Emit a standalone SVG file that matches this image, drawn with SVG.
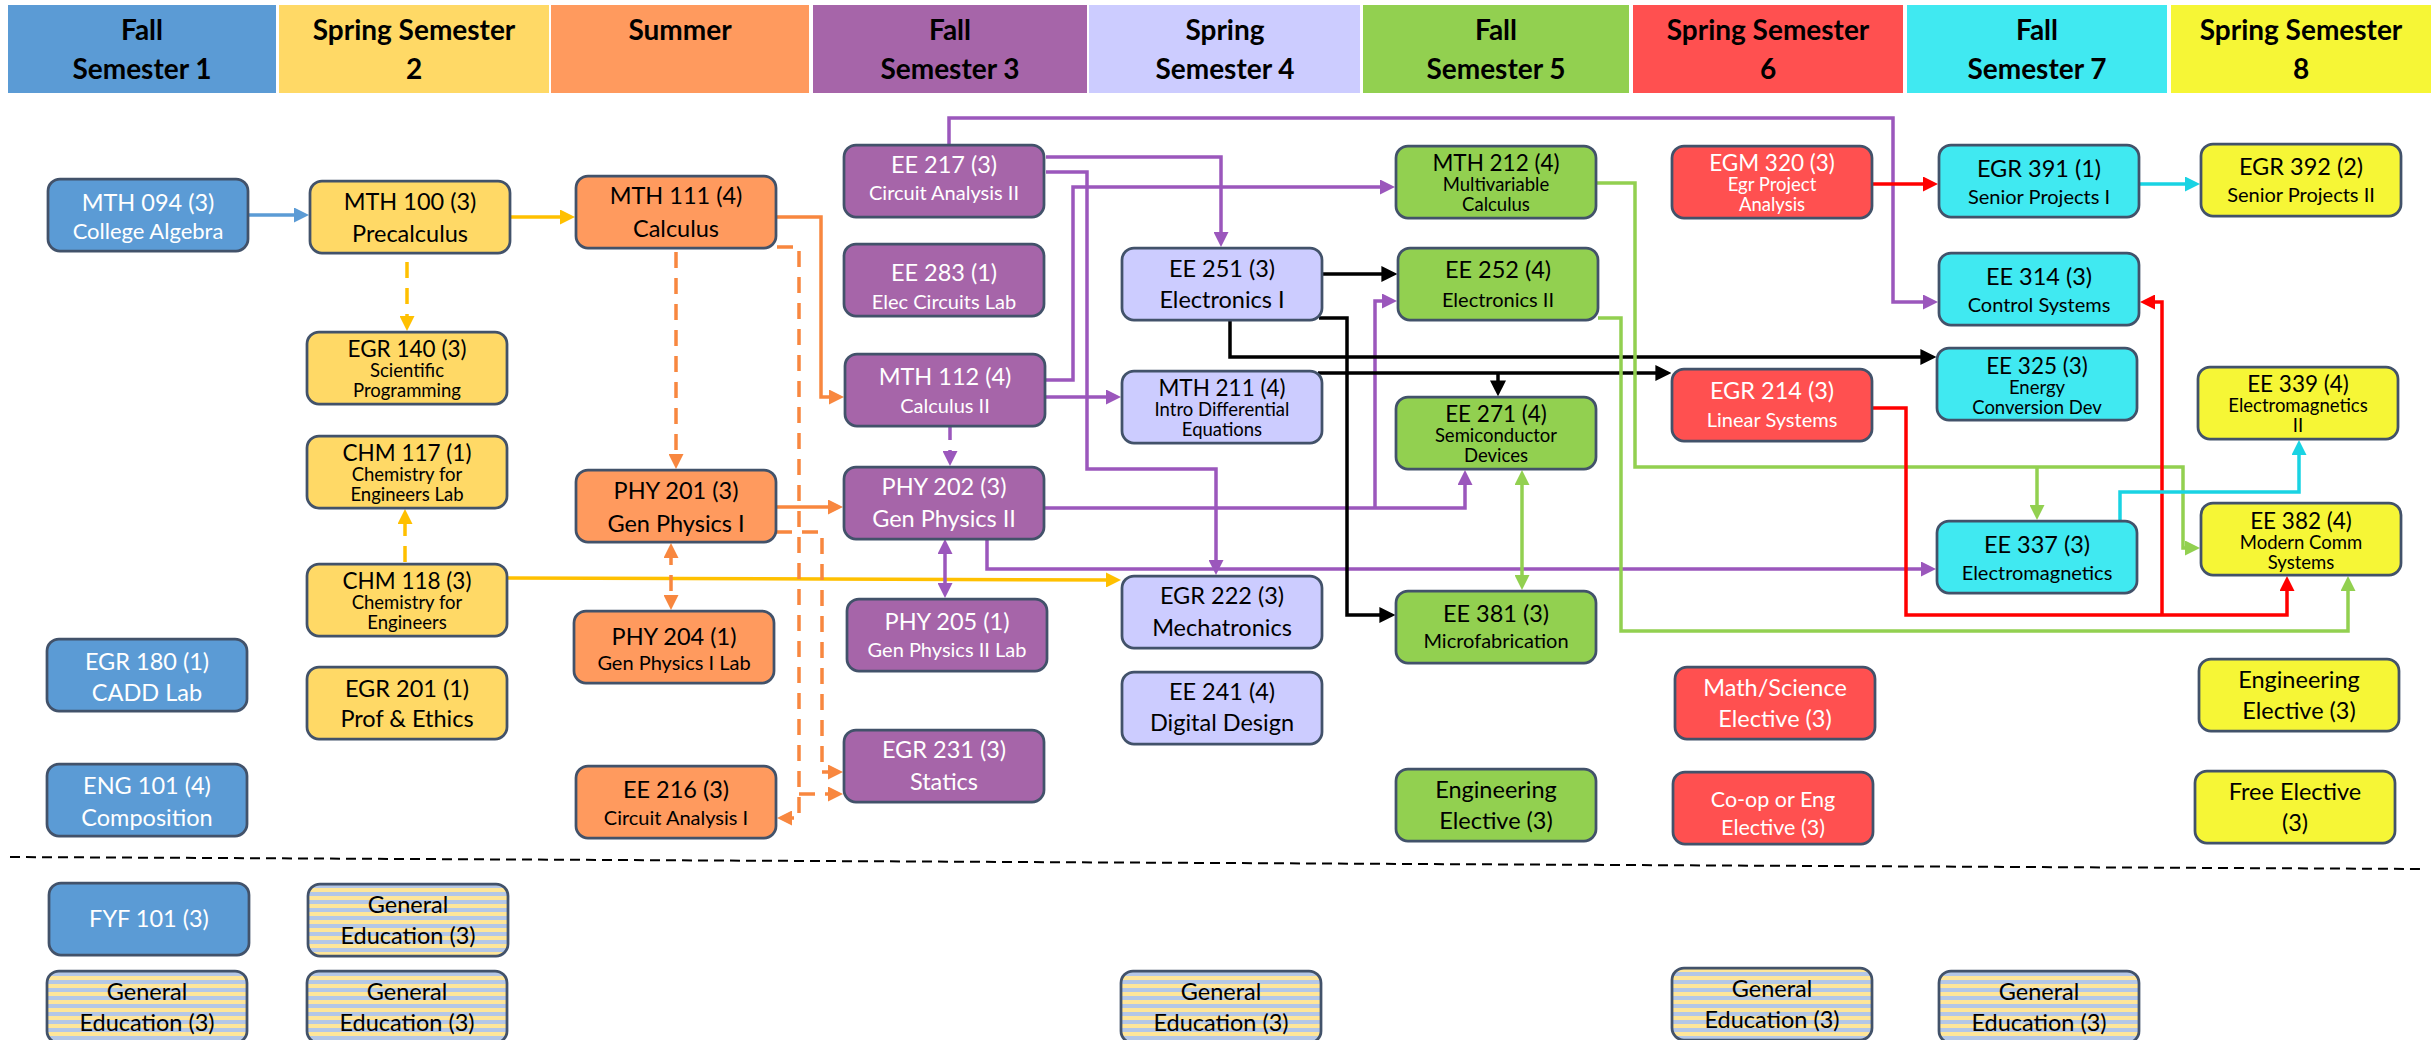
<svg xmlns="http://www.w3.org/2000/svg" width="2433" height="1040" viewBox="0 0 2433 1040">
<style>
.hd{font-family:Lato,"Liberation Sans",sans-serif;font-weight:bold;font-size:28px;text-anchor:middle;fill:#000}
.nb{stroke:#42526A;stroke-width:2.75}
text{font-family:Lato,"Liberation Sans",sans-serif;text-anchor:middle;fill:#000}
.c{font-size:23.5px}
.c3{font-size:22.5px}
.t{font-size:23.5px}
.m{font-size:20px}
.s{font-size:18.5px}
.w text{fill:#fff}
.blue{fill:#5B9BD5}.yel{fill:#FFD966}.org{fill:#FF9A5E}.pur{fill:#A665A9}.lav{fill:#CCCCFF}.grn{fill:#92D050}.red{fill:#FF5050}.cya{fill:#40E9F1}.yl2{fill:#F6F636}.gen{fill:url(#stripes)}
.cn path{fill:none;stroke-width:3.5}
.dash{stroke-dasharray:16 10}
.kb{stroke:#5B9BD5}.kg{stroke:#FFC000}.ko{stroke:#F8873F}.kp{stroke:#9B57BC}.kk{stroke:#000;stroke-width:4}.kn{stroke:#92D050}.kr{stroke:#FF0000}.kc{stroke:#19D3E3}
</style>
<defs>
<pattern id="stripes" patternUnits="userSpaceOnUse" width="8" height="8"><rect width="8" height="4" fill="#FFE699"/><rect y="4" width="8" height="4" fill="#B4C7E7"/></pattern>
<marker id="mb" viewBox="0 0 10 10" refX="6" refY="5" markerWidth="15" markerHeight="15" markerUnits="userSpaceOnUse" orient="auto-start-reverse"><path d="M0,0L10,5L0,10z" fill="#5B9BD5"/></marker>
<marker id="mg" viewBox="0 0 10 10" refX="6" refY="5" markerWidth="15" markerHeight="15" markerUnits="userSpaceOnUse" orient="auto-start-reverse"><path d="M0,0L10,5L0,10z" fill="#FFC000"/></marker>
<marker id="mo" viewBox="0 0 10 10" refX="6" refY="5" markerWidth="15" markerHeight="15" markerUnits="userSpaceOnUse" orient="auto-start-reverse"><path d="M0,0L10,5L0,10z" fill="#F8873F"/></marker>
<marker id="mp" viewBox="0 0 10 10" refX="6" refY="5" markerWidth="15" markerHeight="15" markerUnits="userSpaceOnUse" orient="auto-start-reverse"><path d="M0,0L10,5L0,10z" fill="#9B57BC"/></marker>
<marker id="mk" viewBox="0 0 10 10" refX="6" refY="5" markerWidth="16" markerHeight="16" markerUnits="userSpaceOnUse" orient="auto-start-reverse"><path d="M0,0L10,5L0,10z" fill="#000"/></marker>
<marker id="mn" viewBox="0 0 10 10" refX="6" refY="5" markerWidth="15" markerHeight="15" markerUnits="userSpaceOnUse" orient="auto-start-reverse"><path d="M0,0L10,5L0,10z" fill="#92D050"/></marker>
<marker id="mr" viewBox="0 0 10 10" refX="6" refY="5" markerWidth="15" markerHeight="15" markerUnits="userSpaceOnUse" orient="auto-start-reverse"><path d="M0,0L10,5L0,10z" fill="#FF0000"/></marker>
<marker id="mc" viewBox="0 0 10 10" refX="6" refY="5" markerWidth="15" markerHeight="15" markerUnits="userSpaceOnUse" orient="auto-start-reverse"><path d="M0,0L10,5L0,10z" fill="#19D3E3"/></marker>
</defs>
<rect width="2433" height="1040" fill="#fff"/>
<g id="header">
<rect x="8" y="5" width="268" height="88" class="blue"/>
<rect x="279" y="5" width="270" height="88" class="yel"/>
<rect x="551" y="5" width="258" height="88" class="org"/>
<rect x="813" y="5" width="274" height="88" class="pur"/>
<rect x="1089" y="5" width="271" height="88" class="lav"/>
<rect x="1363" y="5" width="266" height="88" class="grn"/>
<rect x="1633" y="5" width="270" height="88" class="red"/>
<rect x="1907" y="5" width="260" height="88" class="cya"/>
<rect x="2171" y="5" width="260" height="88" class="yl2"/>
<text class="hd" x="142" y="40">Fall</text><text class="hd" x="142" y="79">Semester 1</text>
<text class="hd" x="414" y="40">Spring Semester</text><text class="hd" x="414" y="79">2</text>
<text class="hd" x="680" y="40">Summer</text>
<text class="hd" x="950" y="40">Fall</text><text class="hd" x="950" y="79">Semester 3</text>
<text class="hd" x="1225" y="40">Spring</text><text class="hd" x="1225" y="79">Semester 4</text>
<text class="hd" x="1496" y="40">Fall</text><text class="hd" x="1496" y="79">Semester 5</text>
<text class="hd" x="1768" y="40">Spring Semester</text><text class="hd" x="1768" y="79">6</text>
<text class="hd" x="2037" y="40">Fall</text><text class="hd" x="2037" y="79">Semester 7</text>
<text class="hd" x="2301" y="40">Spring Semester</text><text class="hd" x="2301" y="79">8</text>
</g>
<line id="separator" x1="10" y1="857" x2="2425" y2="869" stroke="#000" stroke-width="2" stroke-dasharray="10 6"/>
<g id="connectors" class="cn">
<path class="kb" d="M249 215H303" marker-end="url(#mb)"/>
<path class="kg" d="M510 217H569" marker-end="url(#mg)"/>
<path class="kg dash" d="M407 262V325" marker-end="url(#mg)"/>
<path class="kg dash" d="M405 562V515" marker-end="url(#mg)"/>
<path class="kg" d="M507 578L1115 580" marker-end="url(#mg)"/>
<path class="ko" d="M777 217H821V397H838" marker-end="url(#mo)"/>
<path class="ko dash" d="M676 252V463" marker-end="url(#mo)"/>
<path class="ko dash" d="M777 247H799V818H783" marker-end="url(#mo)"/>
<path class="ko dash" d="M799 794H837" marker-end="url(#mo)"/>
<path class="ko" d="M776 507H837" marker-end="url(#mo)"/>
<path class="ko dash" d="M776 532H822V772H837" marker-end="url(#mo)"/>
<path class="ko dash" d="M671 549V604" marker-start="url(#mo)" marker-end="url(#mo)"/>
<path class="kp" d="M949 145V118H1893V302H1932" marker-end="url(#mp)"/>
<path class="kp" d="M1046 157H1221V241" marker-end="url(#mp)"/>
<path class="kp" d="M1046 172H1087V469H1216V569" marker-end="url(#mp)"/>
<path class="kp" d="M1046 380H1073V187H1389" marker-end="url(#mp)"/>
<path class="kp" d="M1046 397H1115" marker-end="url(#mp)"/>
<path class="kp dash" d="M950 424V460" marker-end="url(#mp)"/>
<path class="kp" d="M1045 508H1465V476" marker-end="url(#mp)"/>
<path class="kp" d="M1375 508V301H1391" marker-end="url(#mp)"/>
<path class="kp" d="M945 545V592" marker-start="url(#mp)" marker-end="url(#mp)"/>
<path class="kp" d="M987 538V569H1930" marker-end="url(#mp)"/>
<path class="kk" d="M1321 274H1391" marker-end="url(#mk)"/>
<path class="kk" d="M1230 320V357H1930" marker-end="url(#mk)"/>
<path class="kk" d="M1319 318H1347V615H1389" marker-end="url(#mk)"/>
<path class="kk" d="M1318 373H1665" marker-end="url(#mk)"/>
<path class="kk" d="M1498 373V390" marker-end="url(#mk)"/>
<path class="kn" d="M1522 476V584" marker-start="url(#mn)" marker-end="url(#mn)"/>
<path class="kn" d="M1596 183H1635V467H2183V548H2194" marker-end="url(#mn)"/>
<path class="kn" d="M2037 467V514" marker-end="url(#mn)"/>
<path class="kn" d="M1598 318H1621V631H2348V582" marker-end="url(#mn)"/>
<path class="kr" d="M1872 184H1932" marker-end="url(#mr)"/>
<path class="kr" d="M1872 408H1906V615H2287V582" marker-end="url(#mr)"/>
<path class="kr" d="M2162 615V302H2146" marker-end="url(#mr)"/>
<path class="kc" d="M2139 184H2194" marker-end="url(#mc)"/>
<path class="kc" d="M2120 521V492H2299V446" marker-end="url(#mc)"/>
</g>
<g id="n_mth094" class="w"><rect class="nb blue" x="48" y="179" width="200" height="72" rx="12"/><text class="c" x="148" y="211">MTH 094 (3)</text><text class="t" x="148" y="239" style="font-size:22px">College Algebra</text></g>
<g id="n_egr180" class="w"><rect class="nb blue" x="47" y="639" width="200" height="72" rx="12"/><text class="c" x="147" y="670">EGR 180 (1)</text><text class="t" x="147" y="701">CADD Lab</text></g>
<g id="n_eng101" class="w"><rect class="nb blue" x="47" y="764" width="200" height="72" rx="12"/><text class="c" x="147" y="794">ENG 101 (4)</text><text class="t" x="147" y="826">Composition</text></g>
<g id="n_fyf101" class="w"><rect class="nb blue" x="49" y="883" width="200" height="72" rx="12"/><text class="c" x="149" y="927">FYF 101 (3)</text></g>
<g id="n_gened1"><rect class="nb gen" x="47" y="971" width="200" height="72" rx="12"/><text class="t" x="147" y="1000">General</text><text class="t" x="147" y="1031">Education (3)</text></g>
<g id="n_mth100"><rect class="nb yel" x="310" y="181" width="200" height="72" rx="12"/><text class="c" x="410" y="210">MTH 100 (3)</text><text class="t" x="410" y="242">Precalculus</text></g>
<g id="n_egr140"><rect class="nb yel" x="307" y="332" width="200" height="72" rx="12"/><text class="c3" x="407" y="357">EGR 140 (3)</text><text class="s" x="407" y="377">Scientific</text><text class="s" x="407" y="397">Programming</text></g>
<g id="n_chm117"><rect class="nb yel" x="307" y="436" width="200" height="72" rx="12"/><text class="c3" x="407" y="461">CHM 117 (1)</text><text class="s" x="407" y="481">Chemistry for</text><text class="s" x="407" y="501">Engineers Lab</text></g>
<g id="n_chm118"><rect class="nb yel" x="307" y="564" width="200" height="72" rx="12"/><text class="c3" x="407" y="589">CHM 118 (3)</text><text class="s" x="407" y="609">Chemistry for</text><text class="s" x="407" y="629">Engineers</text></g>
<g id="n_egr201"><rect class="nb yel" x="307" y="667" width="200" height="72" rx="12"/><text class="c" x="407" y="697">EGR 201 (1)</text><text class="t" x="407" y="727">Prof &amp; Ethics</text></g>
<g id="n_gened2a"><rect class="nb gen" x="308" y="884" width="200" height="72" rx="12"/><text class="t" x="408" y="913">General</text><text class="t" x="408" y="944">Education (3)</text></g>
<g id="n_gened2b"><rect class="nb gen" x="307" y="971" width="200" height="72" rx="12"/><text class="t" x="407" y="1000">General</text><text class="t" x="407" y="1031">Education (3)</text></g>
<g id="n_mth111"><rect class="nb org" x="576" y="176" width="200" height="72" rx="12"/><text class="c" x="676" y="204">MTH 111 (4)</text><text class="t" x="676" y="237">Calculus</text></g>
<g id="n_phy201"><rect class="nb org" x="576" y="470" width="200" height="72" rx="12"/><text class="c" x="676" y="499">PHY 201 (3)</text><text class="t" x="676" y="532">Gen Physics I</text></g>
<g id="n_phy204"><rect class="nb org" x="574" y="611" width="200" height="72" rx="12"/><text class="c" x="674" y="645">PHY 204 (1)</text><text class="m" x="674" y="670">Gen Physics I Lab</text></g>
<g id="n_ee216"><rect class="nb org" x="576" y="766" width="200" height="72" rx="12"/><text class="c" x="676" y="798">EE 216 (3)</text><text class="m" x="676" y="825">Circuit Analysis I</text></g>
<g id="n_ee217" class="w"><rect class="nb pur" x="844" y="145" width="200" height="72" rx="12"/><text class="c" x="944" y="173">EE 217 (3)</text><text class="m" x="944" y="200">Circuit Analysis II</text></g>
<g id="n_ee283" class="w"><rect class="nb pur" x="844" y="244" width="200" height="72" rx="12"/><text class="c" x="944" y="281">EE 283 (1)</text><text class="m" x="944" y="309">Elec Circuits Lab</text></g>
<g id="n_mth112" class="w"><rect class="nb pur" x="845" y="354" width="200" height="72" rx="12"/><text class="c" x="945" y="385">MTH 112 (4)</text><text class="m" x="945" y="413">Calculus II</text></g>
<g id="n_phy202" class="w"><rect class="nb pur" x="844" y="467" width="200" height="72" rx="12"/><text class="c" x="944" y="495">PHY 202 (3)</text><text class="t" x="944" y="527">Gen Physics II</text></g>
<g id="n_phy205" class="w"><rect class="nb pur" x="847" y="599" width="200" height="72" rx="12"/><text class="c" x="947" y="630">PHY 205 (1)</text><text class="m" x="947" y="657">Gen Physics II Lab</text></g>
<g id="n_egr231" class="w"><rect class="nb pur" x="844" y="730" width="200" height="72" rx="12"/><text class="c" x="944" y="758">EGR 231 (3)</text><text class="t" x="944" y="790">Statics</text></g>
<g id="n_ee251"><rect class="nb lav" x="1122" y="248" width="200" height="72" rx="12"/><text class="c" x="1222" y="277">EE 251 (3)</text><text class="t" x="1222" y="308">Electronics I</text></g>
<g id="n_mth211"><rect class="nb lav" x="1122" y="371" width="200" height="72" rx="12"/><text class="c3" x="1222" y="396">MTH 211 (4)</text><text class="s" x="1222" y="416">Intro Differential</text><text class="s" x="1222" y="436">Equations</text></g>
<g id="n_egr222"><rect class="nb lav" x="1122" y="576" width="200" height="72" rx="12"/><text class="c" x="1222" y="604">EGR 222 (3)</text><text class="t" x="1222" y="636">Mechatronics</text></g>
<g id="n_ee241"><rect class="nb lav" x="1122" y="672" width="200" height="72" rx="12"/><text class="c" x="1222" y="700">EE 241 (4)</text><text class="t" x="1222" y="731">Digital Design</text></g>
<g id="n_gened5"><rect class="nb gen" x="1121" y="971" width="200" height="72" rx="12"/><text class="t" x="1221" y="1000">General</text><text class="t" x="1221" y="1031">Education (3)</text></g>
<g id="n_mth212"><rect class="nb grn" x="1396" y="146" width="200" height="72" rx="12"/><text class="c3" x="1496" y="171">MTH 212 (4)</text><text class="s" x="1496" y="191">Multivariable</text><text class="s" x="1496" y="211">Calculus</text></g>
<g id="n_ee252"><rect class="nb grn" x="1398" y="248" width="200" height="72" rx="12"/><text class="c" x="1498" y="278">EE 252 (4)</text><text class="m" x="1498" y="307">Electronics II</text></g>
<g id="n_ee271"><rect class="nb grn" x="1396" y="397" width="200" height="72" rx="12"/><text class="c3" x="1496" y="422">EE 271 (4)</text><text class="s" x="1496" y="442">Semiconductor</text><text class="s" x="1496" y="462">Devices</text></g>
<g id="n_ee381"><rect class="nb grn" x="1396" y="591" width="200" height="72" rx="12"/><text class="c" x="1496" y="622">EE 381 (3)</text><text class="m" x="1496" y="648">Microfabrication</text></g>
<g id="n_engel5"><rect class="nb grn" x="1396" y="769" width="200" height="72" rx="12"/><text class="t" x="1496" y="798">Engineering</text><text class="t" x="1496" y="829">Elective (3)</text></g>
<g id="n_egm320" class="w"><rect class="nb red" x="1672" y="146" width="200" height="72" rx="12"/><text class="c3" x="1772" y="171">EGM 320 (3)</text><text class="s" x="1772" y="191">Egr Project</text><text class="s" x="1772" y="211">Analysis</text></g>
<g id="n_egr214" class="w"><rect class="nb red" x="1672" y="369" width="200" height="72" rx="12"/><text class="c" x="1772" y="399">EGR 214 (3)</text><text class="m" x="1772" y="427">Linear Systems</text></g>
<g id="n_mathsci" class="w"><rect class="nb red" x="1675" y="667" width="200" height="72" rx="12"/><text class="t" x="1775" y="696">Math/Science</text><text class="t" x="1775" y="727">Elective (3)</text></g>
<g id="n_coop" class="w"><rect class="nb red" x="1673" y="772" width="200" height="72" rx="12"/><text class="t" x="1773" y="807" style="font-size:21.5px">Co-op or Eng</text><text class="t" x="1773" y="835" style="font-size:21.5px">Elective (3)</text></g>
<g id="n_gened6"><rect class="nb gen" x="1672" y="968" width="200" height="72" rx="12"/><text class="t" x="1772" y="997">General</text><text class="t" x="1772" y="1028">Education (3)</text></g>
<g id="n_egr391"><rect class="nb cya" x="1939" y="145" width="200" height="72" rx="12"/><text class="c" x="2039" y="177">EGR 391 (1)</text><text class="m" x="2039" y="204">Senior Projects I</text></g>
<g id="n_ee314"><rect class="nb cya" x="1939" y="253" width="200" height="72" rx="12"/><text class="c" x="2039" y="285">EE 314 (3)</text><text class="m" x="2039" y="312">Control Systems</text></g>
<g id="n_ee325"><rect class="nb cya" x="1937" y="348" width="200" height="72" rx="12"/><text class="c3" x="2037" y="374">EE 325 (3)</text><text class="s" x="2037" y="394">Energy</text><text class="s" x="2037" y="414">Conversion Dev</text></g>
<g id="n_ee337"><rect class="nb cya" x="1937" y="521" width="200" height="72" rx="12"/><text class="c" x="2037" y="553">EE 337 (3)</text><text class="m" x="2037" y="580">Electromagnetics</text></g>
<g id="n_gened7"><rect class="nb gen" x="1939" y="971" width="200" height="72" rx="12"/><text class="t" x="2039" y="1000">General</text><text class="t" x="2039" y="1031">Education (3)</text></g>
<g id="n_egr392"><rect class="nb yl2" x="2201" y="144" width="200" height="72" rx="12"/><text class="c" x="2301" y="175">EGR 392 (2)</text><text class="m" x="2301" y="202">Senior Projects II</text></g>
<g id="n_ee339"><rect class="nb yl2" x="2198" y="367" width="200" height="72" rx="12"/><text class="c3" x="2298" y="392">EE 339 (4)</text><text class="s" x="2298" y="412">Electromagnetics</text><text class="s" x="2298" y="432">II</text></g>
<g id="n_ee382"><rect class="nb yl2" x="2201" y="503" width="200" height="72" rx="12"/><text class="c3" x="2301" y="529">EE 382 (4)</text><text class="s" x="2301" y="549">Modern Comm</text><text class="s" x="2301" y="569">Systems</text></g>
<g id="n_engel8"><rect class="nb yl2" x="2199" y="659" width="200" height="72" rx="12"/><text class="t" x="2299" y="688">Engineering</text><text class="t" x="2299" y="719">Elective (3)</text></g>
<g id="n_free"><rect class="nb yl2" x="2195" y="771" width="200" height="72" rx="12"/><text class="t" x="2295" y="800">Free Elective</text><text class="t" x="2295" y="831">(3)</text></g>
</svg>
